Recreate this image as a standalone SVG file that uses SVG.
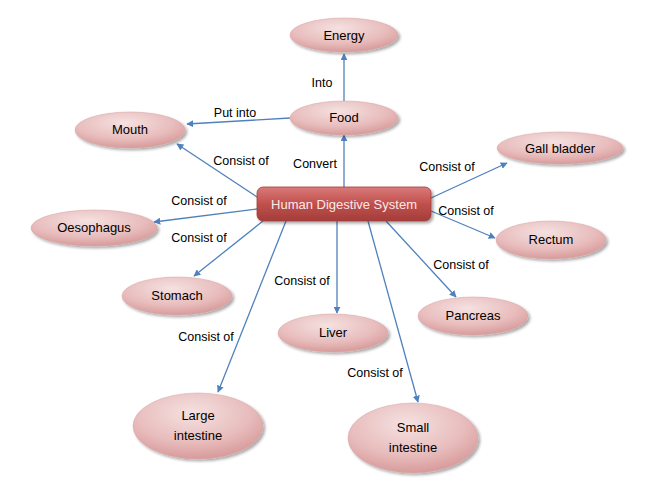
<svg xmlns="http://www.w3.org/2000/svg" width="662" height="502" viewBox="0 0 662 502">
<defs>
<radialGradient id="pink" cx="0.45" cy="0.3" r="0.75">
<stop offset="0" stop-color="#f5e1e1"/>
<stop offset="0.6" stop-color="#e8bcbc"/>
<stop offset="1" stop-color="#d49494"/>
</radialGradient>
<linearGradient id="red" x1="0" y1="0" x2="0" y2="1">
<stop offset="0" stop-color="#d97a78"/>
<stop offset="0.5" stop-color="#c0504d"/>
<stop offset="1" stop-color="#a33d3a"/>
</linearGradient>
<filter id="sh" x="-20%" y="-20%" width="150%" height="160%">
<feGaussianBlur in="SourceAlpha" stdDeviation="1.5"/>
<feOffset dx="1.5" dy="2" result="b"/>
<feComponentTransfer><feFuncA type="linear" slope="0.35"/></feComponentTransfer>
<feMerge><feMergeNode/><feMergeNode in="SourceGraphic"/></feMerge>
</filter>
<marker id="arr" viewBox="0 0 10 10" refX="9" refY="5" markerWidth="7" markerHeight="7" orient="auto" markerUnits="userSpaceOnUse">
<path d="M0,0 L10,5 L0,10 z" fill="#4f81bd"/>
</marker>
</defs>
<style>
.n{fill:url(#pink);stroke:#d9a3a3;stroke-width:0.5;filter:url(#sh)}
.t{font-family:"Liberation Sans",Arial,sans-serif;font-size:13px;fill:#000;text-anchor:middle}
.l{font-family:"Liberation Sans",Arial,sans-serif;font-size:12.5px;fill:#000;text-anchor:middle}
.c{stroke:#4f81bd;stroke-width:1.3;fill:none;marker-end:url(#arr)}
</style>
<rect width="662" height="502" fill="#fff"/>
<g id="connectors">
<line class="c" x1="344" y1="101" x2="344" y2="54"/>
<line class="c" x1="290" y1="118" x2="187" y2="124"/>
<line class="c" x1="344" y1="187" x2="344" y2="135"/>
<line class="c" x1="257" y1="197" x2="177" y2="144"/>
<line class="c" x1="257" y1="209" x2="154" y2="222"/>
<line class="c" x1="263" y1="221" x2="194" y2="276"/>
<line class="c" x1="286" y1="221" x2="218" y2="392"/>
<line class="c" x1="337" y1="221" x2="337" y2="313"/>
<line class="c" x1="368" y1="221" x2="418" y2="402"/>
<line class="c" x1="386" y1="221" x2="456" y2="297"/>
<line class="c" x1="431" y1="211" x2="495" y2="238"/>
<line class="c" x1="431" y1="198" x2="507" y2="163"/>
<text class="l" x="322" y="87">Into</text>
<text class="l" x="235" y="117">Put into</text>
<text class="l" x="315" y="168">Convert</text>
<text class="l" x="241" y="165">Consist of</text>
<text class="l" x="199" y="205">Consist of</text>
<text class="l" x="199" y="242">Consist of</text>
<text class="l" x="206" y="341">Consist of</text>
<text class="l" x="302" y="285">Consist of</text>
<text class="l" x="375" y="377">Consist of</text>
<text class="l" x="447" y="171">Consist of</text>
<text class="l" x="466" y="215">Consist of</text>
<text class="l" x="461" y="269">Consist of</text>
</g>
<g id="hds">
<rect x="257" y="187" width="174" height="34" rx="6" fill="url(#red)" stroke="#a33d3a" stroke-width="0.8" filter="url(#sh)"/>
<text class="t" x="344" y="209" style="fill:#fbeaea">Human Digestive System</text>
</g>
<g id="energy"><ellipse class="n" cx="344" cy="35" rx="54" ry="17"/><text class="t" x="344" y="40">Energy</text></g>
<g id="food"><ellipse class="n" cx="344" cy="118" rx="54" ry="17"/><text class="t" x="344" y="122">Food</text></g>
<g id="mouth"><ellipse class="n" cx="130" cy="130" rx="55" ry="18"/><text class="t" x="130" y="134">Mouth</text></g>
<g id="oesophagus"><ellipse class="n" cx="94" cy="228" rx="63" ry="18"/><text class="t" x="94" y="232">Oesophagus</text></g>
<g id="gallbladder"><ellipse class="n" cx="560" cy="148" rx="63" ry="16"/><text class="t" x="560" y="153">Gall bladder</text></g>
<g id="rectum"><ellipse class="n" cx="551" cy="240" rx="55" ry="19"/><text class="t" x="551" y="244">Rectum</text></g>
<g id="pancreas"><ellipse class="n" cx="473" cy="316" rx="55" ry="19"/><text class="t" x="473" y="320">Pancreas</text></g>
<g id="stomach"><ellipse class="n" cx="177" cy="296" rx="55" ry="19"/><text class="t" x="177" y="300">Stomach</text></g>
<g id="liver"><ellipse class="n" cx="333" cy="333" rx="55" ry="19"/><text class="t" x="333" y="337">Liver</text></g>
<g id="largeintestine"><ellipse class="n" cx="198" cy="426" rx="65" ry="33"/><text class="t" x="198" y="420">Large</text><text class="t" x="198" y="440">intestine</text></g>
<g id="smallintestine"><ellipse class="n" cx="413" cy="438" rx="65" ry="35"/><text class="t" x="413" y="432">Small</text><text class="t" x="413" y="452">intestine</text></g>
</svg>
